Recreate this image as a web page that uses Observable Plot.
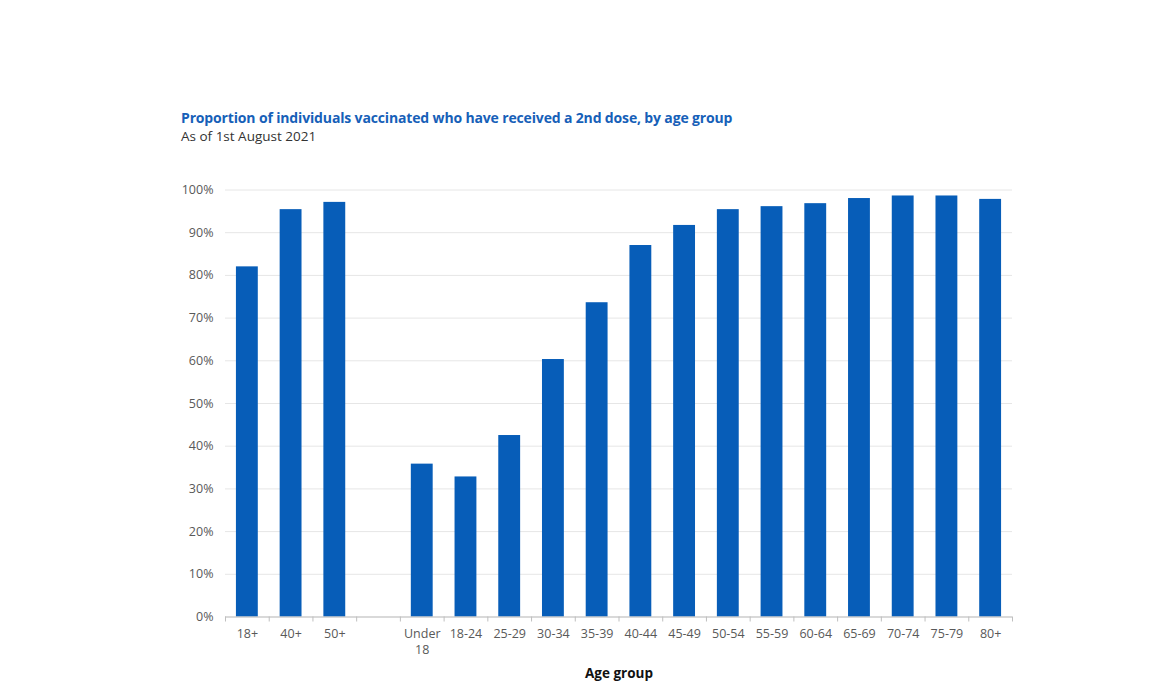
<!DOCTYPE html>
<html>
<head>
<meta charset="utf-8">
<script src="https://cdn.jsdelivr.net/npm/d3@7"></script>
<script src="https://cdn.jsdelivr.net/npm/@observablehq/plot@0.6"></script>
<style>
  html, body { margin: 0; padding: 0; background: #fff; }
  body { width: 1168px; height: 690px; position: relative; overflow: hidden; font-family: "Open Sans", Lato, sans-serif; }
  #title { position: absolute; left: 181px; top: 108px; font-size: 14px; font-weight: 700; color: #1660b8; white-space: nowrap; letter-spacing: -0.15px; }
  #subtitle { position: absolute; left: 181px; top: 127px; font-size: 13.5px; color: #333; white-space: nowrap; }
  #chart { position: absolute; left: 0; top: 150px; }
</style>
</head>
<body>
<div id="title">Proportion of individuals vaccinated who have received a 2nd dose, by age group</div>
<div id="subtitle">As of 1st August 2021</div>
<div id="chart"></div>
<script>
const categories = ["18+", "40+", "50+", " ", "Under 18", "18-24", "25-29", "30-34", "35-39", "40-44", "45-49", "50-54", "55-59", "60-64", "65-69", "70-74", "75-79", "80+"];
const values = [82.0, 95.4, 97.1, null, 35.8, 32.8, 42.5, 60.3, 73.6, 87.0, 91.7, 95.4, 96.1, 96.8, 98.0, 98.6, 98.6, 97.8];
const yTicks = [0, 10, 20, 30, 40, 50, 60, 70, 80, 90, 100];
const xTitle = "Age group";

const data = categories.map((c, i) => ({category: c, value: values[i]})).filter(d => d.value != null);

const width = 1168, height = 540;
const ml = 225, mr = 156, mt = 39.5, mb = 73.5;
const step = (width - ml - mr) / categories.length;
const grey = "#595959";

const chart = Plot.plot({
  width, height,
  marginLeft: ml, marginRight: mr, marginTop: mt, marginBottom: mb,
  style: {fontFamily: "'Open Sans', Lato, sans-serif", fontSize: "12px", color: grey, background: "white"},
  x: {domain: categories, paddingInner: 0.5, paddingOuter: 0.25, round: false, label: null},
  y: {domain: [0, 100], label: null},
  marks: [
    Plot.gridY(yTicks, {stroke: "#e6e6e6", strokeOpacity: 1}),
    Plot.axisY({ticks: yTicks, tickSize: 0, tickPadding: 12, tickFormat: d => d + "%", fill: grey, fontSize: 12.5}),
    Plot.barY(data, {x: "category", y: "value", fill: "#075db8"}),
    Plot.ruleY([0], {stroke: "#bfbfbf"}),
    Plot.axisX({ticks: categories, tickSize: 5, tickFormat: () => "", dx: -step / 2, stroke: "#bfbfbf"}),
    Plot.axisX({ticks: [categories[categories.length - 1]], tickSize: 5, tickFormat: () => "", dx: step / 2, stroke: "#bfbfbf"}),
    Plot.axisX({ticks: categories, tickSize: 0, tickPadding: 10, tickFormat: d => d === "Under 18" ? "Under\n18" : d, fill: grey, fontSize: 12.5, lineHeight: 1.25}),
    Plot.text([xTitle], {frameAnchor: "bottom", dy: 61, text: d => d, fontWeight: "bold", fontSize: 13.5, fill: "#111"})
  ]
});
document.getElementById("chart").appendChild(chart);
</script>
</body>
</html>
